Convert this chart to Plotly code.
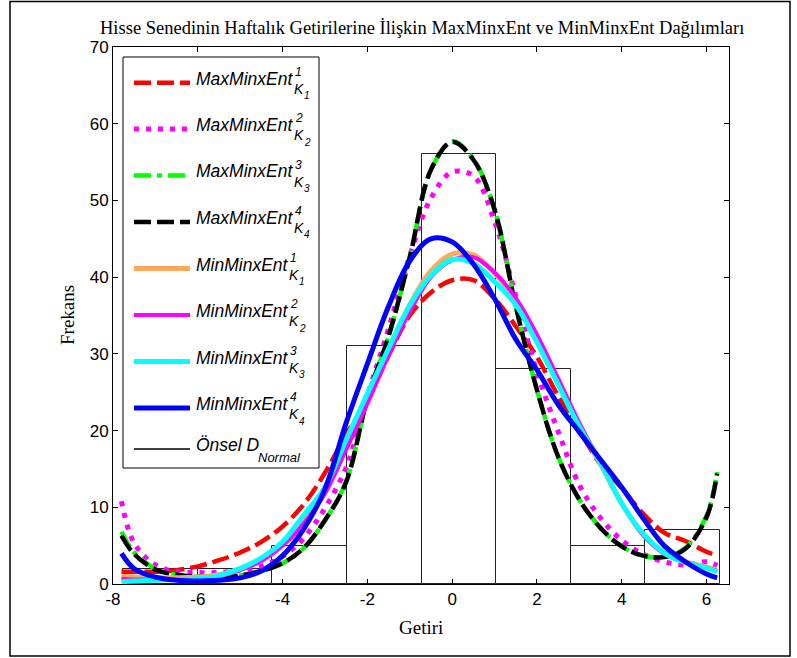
import plotly.graph_objects as go

# ---------------- data ----------------
bin_centers = [-6.88, -5.12, -3.36, -1.60, 0.16, 1.92, 3.68, 5.44]
bin_counts = [2, 2, 5, 31, 56, 28, 5, 7]
bin_width = 1.76

xs = [-7.8, -7.5, -7.0, -6.5, -6.0, -5.5, -5.0, -4.5, -4.0, -3.5, -3.0, -2.5, -2.0,
      -1.5, -1.0, -0.5, 0.0, 0.5, 1.0, 1.5, 2.0, 2.5, 3.0, 3.5, 4.0, 4.5, 5.0,
      5.5, 6.0, 6.25]

max1 = [1.6, 1.6, 1.6, 1.8, 2.3, 3.1, 4.1, 5.5, 7.5, 10.4, 14.5, 19.5, 24.0,
        29.8, 35.0, 38.0, 39.6, 39.6, 37.2, 33.6, 29.6, 24.5, 20.0, 15.6, 12.5, 9.2, 6.7,
        5.6, 4.2, 3.7]
max2 = [10.8, 5.3, 2.5, 1.6, 1.5, 1.5, 1.8, 2.3, 3.6, 6.0, 9.9, 15.2, 24.5,
        33.3, 42.8, 50.3, 53.7, 53.2, 47.3, 37.5, 27.6, 19.9, 12.9, 8.6, 5.7, 3.9, 2.9,
        2.5, 2.9, 2.4]
max3 = [6.8, 4.1, 2.0, 1.2, 0.95, 0.9, 1.1, 1.7, 2.7, 4.7, 8.3, 13.4, 24.1,
        32.3, 42.6, 54.0, 57.7, 55.4, 48.8, 36.2, 25.3, 16.6, 11.0, 7.3, 4.9, 3.7, 3.5,
        4.7, 8.9, 14.6]
max4 = [6.3, 3.9, 1.9, 1.2, 0.95, 0.9, 1.1, 1.7, 2.7, 4.7, 8.3, 13.3, 24.2,
        32.3, 42.6, 54.0, 57.6, 55.3, 48.8, 36.2, 25.3, 16.6, 11.0, 7.3, 4.9, 3.7, 3.5,
        4.6, 8.7, 14.4]
min1 = [1.0, 0.9, 0.8, 0.8, 0.9, 1.2, 2.0, 3.3, 5.3, 8.3, 12.4, 18.3, 24.4,
        30.6, 36.4, 40.8, 43.0, 42.9, 40.5, 37.0, 32.0, 26.3, 20.6, 15.6, 10.5, 6.5, 4.0,
        2.9, 2.2, 1.8]
min2 = [0.7, 0.6, 0.6, 0.6, 0.7, 1.0, 1.8, 3.0, 5.0, 7.9, 11.8, 17.5, 23.5,
        29.8, 35.5, 40.0, 42.2, 42.6, 40.6, 37.3, 32.5, 26.8, 21.0, 15.8, 10.5, 6.4, 4.0,
        2.8, 2.1, 1.7]
min3 = [0.3, 0.4, 0.5, 0.6, 0.7, 1.1, 2.0, 3.4, 5.5, 9.0, 12.6, 18.8, 24.8,
        30.7, 36.3, 40.2, 42.3, 41.8, 39.4, 36.4, 31.5, 26.0, 20.5, 15.8, 10.5, 6.6, 4.1,
        2.8, 2.1, 1.6]
min4 = [4.0, 2.0, 0.9, 0.5, 0.4, 0.5, 0.8, 1.7, 3.7, 7.2, 12.4, 21.0, 28.7,
        36.2, 42.1, 45.0, 44.6, 41.7, 37.2, 31.9, 27.9, 23.4, 19.8, 16.2, 12.6, 8.6, 5.0,
        2.9, 1.3, 0.8]

x_ticks = [-8, -6, -4, -2, 0, 2, 4, 6]
x_tick_text = ["-8", "-6", "-4", "-2", "0", "2", "4", "6"]
y_ticks = [0, 10, 20, 30, 40, 50, 60, 70]
y_tick_text = ["0", "10", "20", "30", "40", "50", "60", "70"]

title_text = "Hisse Senedinin Haftalık Getirilerine İlişkin MaxMinxEnt ve MinMinxEnt Dağılımları"
x_label = "Getiri"
y_label = "Frekans"

legend_main = ["MaxMinxEnt", "MaxMinxEnt", "MaxMinxEnt", "MaxMinxEnt",
               "MinMinxEnt", "MinMinxEnt", "MinMinxEnt", "MinMinxEnt"]
legend_sup = ["1", "2", "3", "4", "1", "2", "3", "4"]
legend_sub = ["K", "K", "K", "K", "K", "K", "K", "K"]
legend_subsub = ["1", "2", "3", "4", "1", "2", "3", "4"]
prior_main = "Önsel D"
prior_sub = "Normal"

# ---------------- styles ----------------
series = [max1, max2, max3, max4, min1, min2, min3, min4]
colors = ["#FF0000", "#FF00FF", "#00FF00", "#000000", "#FFA85C", "#FF00FF", "#00FFFF", "#0000FF"]
widths = [4.5, 5, 4.5, 4.5, 5, 4, 5, 5]
dashes = ["17px,6px", "5px,7px", "17px,6px,5px,6px", "17px,6px", "solid", "solid", "solid", "solid"]
script_x = [294, 294, 294, 294, 289, 289, 289, 289]

W, H = 797, 658
L, R, T, B = 113, 729, 47, 584


def px(x):
    return (x - L) / (R - L)


def py(y):
    return (B - y) / (B - T)


fig = go.Figure()

fig.add_trace(go.Bar(x=bin_centers, y=bin_counts, width=[bin_width] * len(bin_counts),
                     marker=dict(color="white", line=dict(color="#222222", width=1)),
                     showlegend=False, hoverinfo="skip"))

for ys, c, w, d in zip(series, colors, widths, dashes):
    fig.add_trace(go.Scatter(x=xs, y=ys, mode="lines",
                             line=dict(color=c, width=w, dash=d, shape="spline", smoothing=1.0),
                             showlegend=False))

shapes = []
annotations = []


def label(text, x, y, size, family="Liberation Sans", anchor="left", angle=0):
    annotations.append(dict(text=text, xref="paper", yref="paper", x=px(x), y=py(y),
                            xanchor=anchor, yanchor="middle", showarrow=False,
                            borderpad=0, textangle=angle,
                            font=dict(family=family, size=size, color="black")))


# legend box
shapes.append(dict(type="rect", xref="paper", yref="paper",
                   x0=px(123), x1=px(319), y0=py(468), y1=py(57),
                   line=dict(color="black", width=1), fillcolor="white", layer="above"))

row_y = [82.7, 129, 175.5, 222, 268.5, 315, 361.5, 408]
for i, ly in enumerate(row_y):
    sx = script_x[i]
    shapes.append(dict(type="line", xref="paper", yref="paper",
                       x0=px(134), x1=px(190), y0=py(ly), y1=py(ly),
                       line=dict(color=colors[i], width=widths[i], dash=dashes[i]),
                       layer="above"))
    label("<i>%s</i>" % legend_main[i], 195, ly - 4, 17.5)
    label("<i>%s</i>" % legend_sup[i], sx, ly - 11, 12)
    label("<i>%s</i>" % legend_sub[i], sx - 1, ly + 6, 14)
    label("<i>%s</i>" % legend_subsub[i], sx + 9, ly + 13, 10)

ly = 449
shapes.append(dict(type="line", xref="paper", yref="paper",
                   x0=px(134), x1=px(190), y0=py(ly), y1=py(ly),
                   line=dict(color="black", width=1.5), layer="above"))
label("<i>%s</i>" % prior_main, 195, ly - 4, 17.5)
label("<i>%s</i>" % prior_sub, 257, ly + 8, 13)

# title and axis labels
label(title_text, 422, 28, 18.5, family="Liberation Serif", anchor="center")
label(x_label, 421, 627, 19, family="Liberation Serif", anchor="center")
label(y_label, 67, 315, 19, family="Liberation Serif", anchor="center", angle=-90)

# outer frame
shapes.append(dict(type="rect", xref="paper", yref="paper",
                   x0=px(10), x1=px(790), y0=py(656), y1=py(1.5),
                   line=dict(color="black", width=1.5), fillcolor="rgba(0,0,0,0)", layer="above"))

axis_common = dict(showgrid=False, zeroline=False, showline=True, linecolor="black", linewidth=1,
                   ticks="inside", ticklen=5, tickcolor="black", mirror="ticks",
                   tickfont=dict(family="Liberation Sans", size=17, color="black"))

fig.update_layout(
    width=W, height=H,
    margin=dict(l=L, r=W - R, t=T, b=H - B),
    paper_bgcolor="white", plot_bgcolor="white",
    xaxis=dict(range=[-8, 6.53], tickvals=x_ticks, ticktext=x_tick_text, **axis_common),
    yaxis=dict(range=[0, 70], tickvals=y_ticks, ticktext=y_tick_text, **axis_common),
    shapes=shapes, annotations=annotations,
    showlegend=False, bargap=0,
)

fig.write_html("out.html")
